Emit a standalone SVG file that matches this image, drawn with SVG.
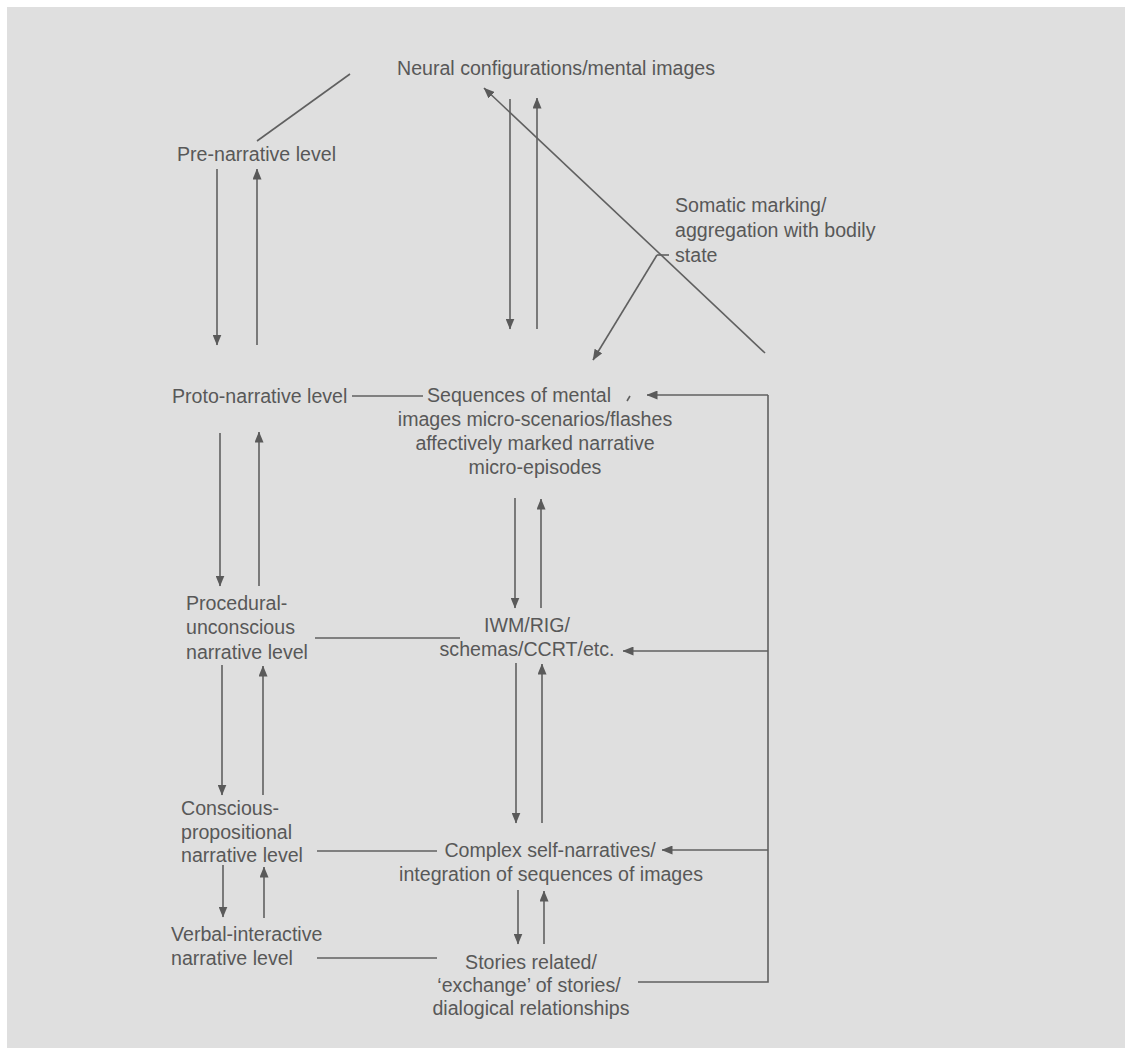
<svg xmlns="http://www.w3.org/2000/svg" width="1130" height="1055" viewBox="0 0 1130 1055">
  <style>
    .t { font-family: "Liberation Sans", Arial, sans-serif; font-size: 19.6px; fill: #585858; }
    .m { text-anchor: middle; }
    .c { fill: none; stroke: #606060; stroke-width: 1.6; }
    .a { marker-end: url(#head); }
  </style>
  <defs>
    <marker id="head" viewBox="0 0 11 9" refX="10.5" refY="4.5" markerWidth="11" markerHeight="9" markerUnits="userSpaceOnUse" orient="auto">
      <path d="M0,0 L11,4.5 L0,9 z" fill="#5a5a5a"/>
    </marker>
  </defs>

  <!-- page -->
  <rect x="0" y="0" width="1130" height="1055" fill="#ffffff"/>
  <rect x="7" y="7" width="1118" height="1041" fill="#dfdfdf"/>

  <!-- nodes -->
  <g id="neural">
    <text class="t" x="397" y="75">Neural configurations/mental images</text>
  </g>
  <g id="pre-narrative">
    <text class="t" x="177" y="161">Pre-narrative level</text>
  </g>
  <g id="somatic">
    <text class="t" x="675" y="212">Somatic marking/</text>
    <text class="t" x="675" y="237">aggregation with bodily</text>
    <text class="t" x="675" y="262">state</text>
  </g>
  <g id="proto-narrative">
    <text class="t" x="172" y="403">Proto-narrative level</text>
  </g>
  <g id="sequences">
    <text class="t" x="427" y="402">Sequences of mental</text>
    <path d="M630,396 L627,401" stroke="#606060" stroke-width="1.6"/>
    <text class="t m" x="535" y="426">images micro-scenarios/flashes</text>
    <text class="t m" x="535" y="450">affectively marked narrative</text>
    <text class="t m" x="535" y="474">micro-episodes</text>
  </g>
  <g id="procedural">
    <text class="t" x="186" y="610">Procedural-</text>
    <text class="t" x="186" y="634">unconscious</text>
    <text class="t" x="186" y="659">narrative level</text>
  </g>
  <g id="iwm">
    <text class="t m" x="527" y="632">IWM/RIG/</text>
    <text class="t m" x="527" y="656">schemas/CCRT/etc.</text>
  </g>
  <g id="conscious">
    <text class="t" x="181" y="815">Conscious-</text>
    <text class="t" x="181" y="839">propositional</text>
    <text class="t" x="181" y="862">narrative level</text>
  </g>
  <g id="complex">
    <text class="t m" x="550" y="857">Complex self-narratives/</text>
    <text class="t m" x="551" y="881">integration of sequences of images</text>
  </g>
  <g id="verbal">
    <text class="t" x="171" y="941">Verbal-interactive</text>
    <text class="t" x="171" y="965">narrative level</text>
  </g>
  <g id="stories">
    <text class="t m" x="531" y="969">Stories related/</text>
    <text class="t m" x="529" y="992">‘exchange’ of stories/</text>
    <text class="t m" x="531" y="1015">dialogical relationships</text>
  </g>

  <!-- connectors -->
  <g id="connectors">
    <!-- level labels tied to their contents -->
    <line class="c" x1="257" y1="141" x2="350" y2="74"/>
    <line class="c" x1="352" y1="396" x2="423" y2="396"/>
    <line class="c" x1="315" y1="638" x2="460" y2="638"/>
    <line class="c" x1="317" y1="851" x2="437" y2="851"/>
    <line class="c" x1="317" y1="958" x2="437" y2="958"/>

    <!-- left column: up and down between levels -->
    <line class="c a" x1="217" y1="169" x2="217" y2="345"/>
    <line class="c a" x1="257" y1="345" x2="257" y2="169"/>
    <line class="c a" x1="220" y1="433" x2="220" y2="586"/>
    <line class="c a" x1="259" y1="586" x2="259" y2="432"/>
    <line class="c a" x1="222" y1="665" x2="222" y2="795"/>
    <line class="c a" x1="263" y1="795" x2="263" y2="666"/>
    <line class="c a" x1="223" y1="865" x2="223" y2="917"/>
    <line class="c a" x1="264" y1="918" x2="264" y2="867"/>

    <!-- middle column -->
    <line class="c a" x1="510" y1="99" x2="510" y2="329"/>
    <line class="c a" x1="537" y1="329" x2="537" y2="98"/>
    <line class="c a" x1="515" y1="498" x2="515" y2="608"/>
    <line class="c a" x1="541" y1="608" x2="541" y2="499"/>
    <line class="c a" x1="516" y1="663" x2="516" y2="823"/>
    <line class="c a" x1="542" y1="823" x2="542" y2="664"/>
    <line class="c a" x1="518" y1="890" x2="518" y2="944"/>
    <line class="c a" x1="544" y1="944" x2="544" y2="891"/>

    <!-- somatic marking -->
    <line class="c a" x1="765" y1="353" x2="484" y2="88"/>
    <line class="c" x1="657" y1="255" x2="669" y2="255"/>
    <line class="c a" x1="657" y1="255" x2="593" y2="360"/>

    <!-- feedback from stories -->
    <polyline class="c" points="638,982 768,982 768,395"/>
    <line class="c a" x1="768" y1="395" x2="647" y2="395"/>
    <line class="c a" x1="768" y1="651" x2="623" y2="651"/>
    <line class="c a" x1="768" y1="850" x2="662" y2="850"/>
  </g>
</svg>
